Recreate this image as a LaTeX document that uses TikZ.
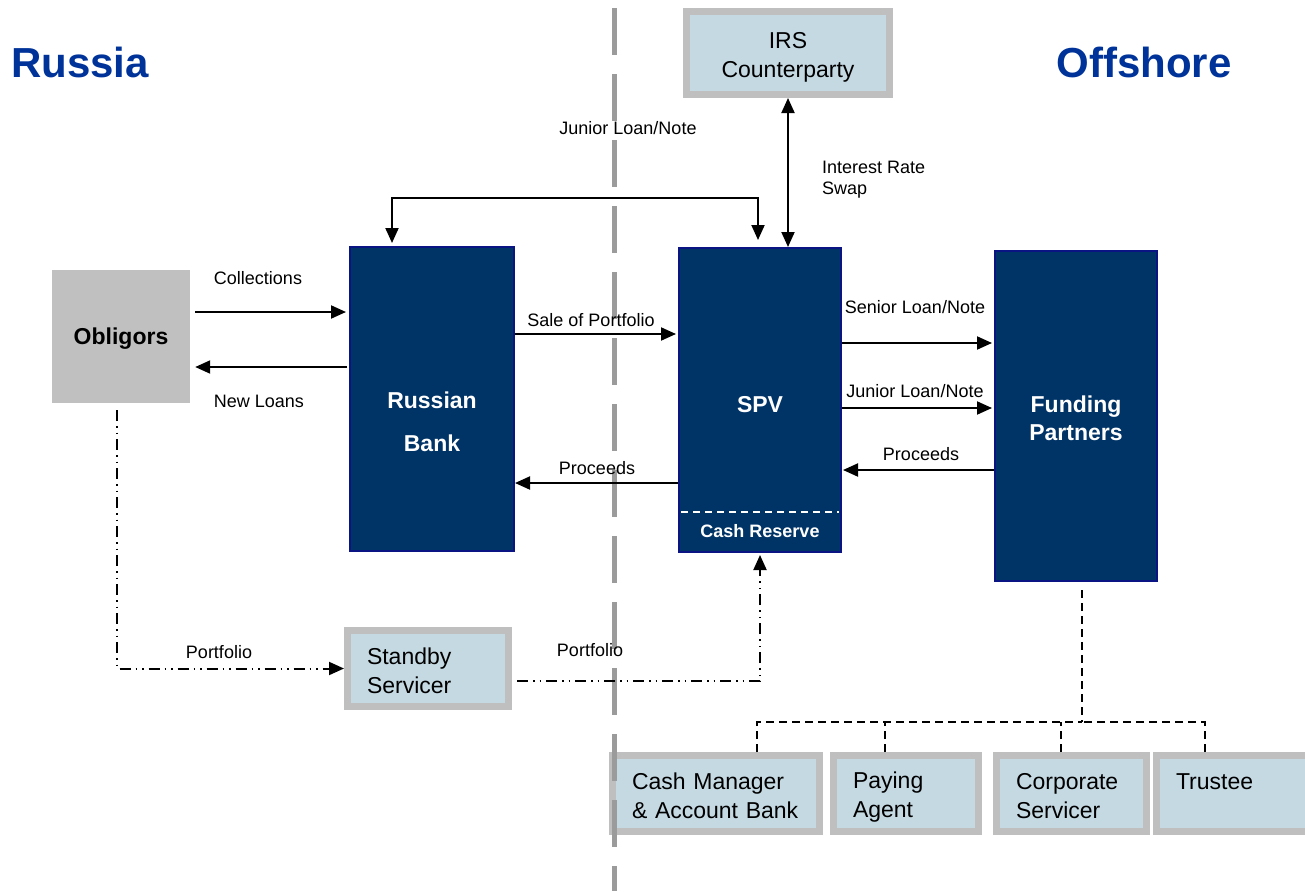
\documentclass[tikz,border=0pt]{standalone}
\usepackage{fontspec}
\setmainfont{Liberation Sans}
\usetikzlibrary{arrows.meta}
\definecolor{navy}{RGB}{0,51,102}
\definecolor{navyline}{RGB}{10,20,130}
\definecolor{paleblue}{RGB}{197,217,227}
\definecolor{framegray}{RGB}{191,191,191}
\definecolor{obliggray}{RGB}{192,192,192}
\definecolor{titleblue}{RGB}{0,51,153}
\definecolor{dividergray}{RGB}{155,155,155}
\tikzset{
	>={Triangle[length=15pt,width=13pt]},
	navybox/.style={draw=navyline, line width=2pt, fill=navy, inner sep=0pt},
	palebox/.style={draw=framegray, line width=7pt, fill=paleblue, inner xsep=19.5pt, inner ysep=0pt, align=left, font=\fontsize{23}{28.5}\selectfont},
	boxtxt/.style={text=white, font=\bfseries\fontsize{23}{43}\selectfont, align=center, inner sep=0pt},
	lbl/.style={font=\fontsize{18}{21}\selectfont, inner sep=0pt, align=left},
	flow/.style={line width=2pt, ->},
	pfolio/.style={line width=2pt, dash pattern=on 11pt off 5pt on 1.5pt off 5pt on 1.5pt off 5pt, ->},
	tie/.style={line width=1.5pt, dash pattern=on 8pt off 5pt},
	divider/.style={line width=5pt, draw=dividergray, dash pattern=on 47pt off 19pt},
	region/.style={text=titleblue, font=\bfseries\fontsize{42}{50}\selectfont, inner sep=0pt}
}

\begin{document}
\begin{tikzpicture}[x=1pt, y=-1pt]
			%%%%% START %%%%%
			\useasboundingbox (0, 0) rectangle (1305, 891);
			
			\node[region] (russia) at (80, 62) {Russia};
			\node[region] (offshore) at (1144, 62) {Offshore};
			
			\node[fill=obliggray, minimum width=138pt, minimum height=133pt, text depth=0pt, font=\bfseries\fontsize{23}{28}\selectfont] (oblig) at (121, 336.5) {Obligors};
			
			\node[navybox, minimum width=164pt, minimum height=304pt] (bank) at (432, 399) {};
			\node[navybox, minimum width=162pt, minimum height=304pt] (spv) at (760, 400) {};
			\node[navybox, minimum width=162pt, minimum height=330pt] (fund) at (1076, 416) {};
			
			\node[boxtxt] (banktxt) at (432, 421.5) {Russian\\Bank};
			\node[boxtxt] (spvtxt) at (760, 405) {SPV};
			\node[boxtxt, font=\bfseries\fontsize{23}{28}\selectfont] (fundtxt) at (1076, 418) {Funding\\Partners};
			\draw[white, line width=1.5pt, dash pattern=on 7pt off 5pt, shorten <=3pt, shorten >=3pt] ([yshift=41pt]spv.south west) -- ([yshift=41pt]spv.south east);
			\node[boxtxt, font=\bfseries\fontsize{18}{21}\selectfont] (cashres) at (760, 531) {Cash Reserve};
			
			\node[palebox, align=center, minimum width=203pt, minimum height=83pt] (irs) at (788, 53) {\rule{0pt}{25pt}IRS\\Counterparty};
			\node[palebox, text width=122pt, minimum height=76pt] (sby) at (428, 668.5) {\rule{0pt}{21pt}Standby\\Servicer};
			
			\node[palebox, text width=168pt, minimum height=76pt] (cm) at (716, 793.5) {\rule{0pt}{21pt}Cash Manager\\\&~Account~Bank};
			\node[palebox, text width=106pt, minimum height=76pt] (pa) at (906, 793.5) {\rule{0pt}{24pt}Paying\\Agent};
			\node[palebox, text width=111pt, minimum height=76pt] (cs) at (1071.5, 793.5) {\rule{0pt}{21pt}Corporate\\Servicer};
			\node[palebox, text width=116pt, minimum height=76pt] (tr) at (1234, 793.5) {\rule{0pt}{21pt}Trustee\\\mbox{}};
			
			% border line
			\draw[divider] (614, 8) -- (614, 891);
			
			\draw[flow, shorten <=5pt, shorten >=3pt] (oblig.east |- 0, 312) -- (bank.west |- 0, 312);
			\draw[flow, shorten <=2pt, shorten >=5pt] (bank.west |- 0, 367) -- (oblig.east |- 0, 367);
			\draw[flow, shorten >=2pt] (bank.east |- 0, 334) -- (spv.west |- 0, 334);
			\draw[flow] (spv.west |- 0, 483) -- (bank.east |- 0, 483);
			\draw[flow, shorten >=2pt] (spv.east |- 0, 343) -- (fund.west |- 0, 343);
			\draw[flow, shorten >=2pt] (spv.east |- 0, 408) -- (fund.west |- 0, 408);
			\draw[flow, shorten >=1pt] (fund.west |- 0, 470) -- (spv.east |- 0, 470);
			\draw[flow, <->] (irs.south) -- (irs.south |- spv.north);
			
			\coordinate (jl) at (392, 198);
			\coordinate (jr) at (758, 198);
			\draw[flow, <->, shorten <=3pt, shorten >=7pt] (jl |- bank.north) -- (jl) -- (jr) -- (jr |- spv.north);
			
			\draw[pfolio, shorten <=7pt] ([xshift=-4pt]oblig.south) |- (sby.west);
			\draw[pfolio, shorten <=5pt, shorten >=2pt] (sby.east |- 0, 681) -| (spv.south);
			
			\coordinate (bus) at (1082, 722);
			\draw[tie, shorten <=8pt] (fund.south -| bus) -- (bus);
			\draw[tie] (cm.north -| 757, 0) |- (bus);
			\draw[tie] (tr.north -| 1205, 0) |- (bus);
			\draw[tie] (pa.north -| 885, 0) -- (bus -| 885, 0);
			\draw[tie] (cs.north -| 1061, 0) -- (bus -| 1061, 0);
			
			\node[lbl] (jnrtop) at (628, 128) {Junior Loan/Note};
			\node[lbl, anchor=west] (swaplbl) at (822, 179.5) {Interest Rate\\Swap};
			\node[lbl] (colllbl) at (258, 278) {Collections};
			\node[lbl] (newlbl) at (259, 401) {New Loans};
			\node[lbl] (salelbl) at (591, 320) {Sale of Portfolio};
			\node[lbl] (procleft) at (597, 468) {Proceeds};
			\node[lbl] (senlbl) at (915, 307) {Senior Loan/Note};
			\node[lbl] (jnrlbl) at (915, 391) {Junior Loan/Note};
			\node[lbl] (procright) at (921, 454) {Proceeds};
			\node[lbl] (pfleft) at (219, 652) {Portfolio};
			\node[lbl] (pfright) at (590, 650) {Portfolio};
			
			%%%%% END %%%%%
\end{tikzpicture}
\end{document}
